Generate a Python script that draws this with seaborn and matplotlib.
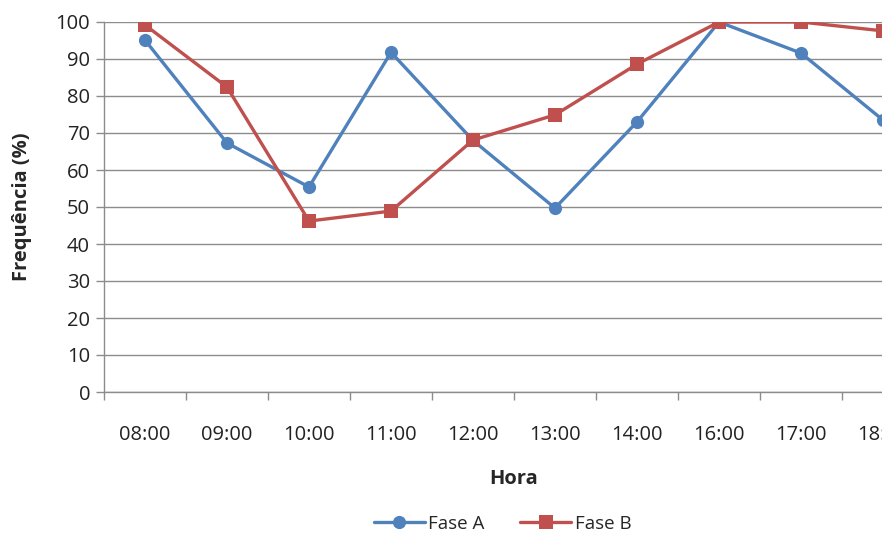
import pandas as pd
import matplotlib.pyplot as plt
import seaborn as sns
from matplotlib.ticker import MultipleLocator, FixedLocator

# Data
horas = ['08:00', '09:00', '10:00', '11:00', '12:00', '13:00', '14:00', '16:00', '17:00', '18:00']
fase_a = [95.1, 67.3, 55.4, 91.8, 68.0, 49.7, 73.0, 100.0, 91.6, 73.5]
fase_b = [99.2, 82.4, 46.2, 48.9, 68.1, 74.9, 88.6, 100.0, 100.0, 97.6]

df = pd.DataFrame({
    'pos': list(range(len(horas))) * 2,
    'freq': fase_a + fase_b,
    'fase': ['Fase A'] * len(horas) + ['Fase B'] * len(horas),
})

sns.set_style('white')
plt.rcParams['font.family'] = ['Open Sans', 'DejaVu Sans']

fig = plt.figure(figsize=(8.82, 5.33), dpi=100)
ax = fig.add_axes([104 / 882, 1 - 392 / 533, 820 / 882, 370 / 533])

sns.lineplot(data=df, x='pos', y='freq', hue='fase', style='fase',
             palette={'Fase A': '#4F81BD', 'Fase B': '#C0504D'},
             markers={'Fase A': 'o', 'Fase B': 's'}, dashes=False,
             markersize=9.5, markeredgewidth=0, linewidth=2.4, ax=ax, legend=True)

ax.set_ylim(0, 100)
ax.set_xlim(-0.5, len(horas) - 0.5)
ax.yaxis.set_major_locator(MultipleLocator(10))
ax.yaxis.grid(True, color='#8C8C8C', linewidth=1)
ax.set_axisbelow(True)

ax.set_xticks(range(len(horas)))
ax.set_xticklabels(horas)
ax.xaxis.set_minor_locator(FixedLocator([i - 0.5 for i in range(len(horas) + 1)]))
ax.tick_params(axis='x', which='major', length=0, pad=24, labelsize=14.5, colors='#222222')
ax.tick_params(axis='x', which='minor', length=6, width=1, color='#8C8C8C', direction='out', bottom=True)
ax.tick_params(axis='y', length=6, width=1, color='#8C8C8C', direction='out', labelsize=14.5,
               pad=4, colors='#222222', left=True)

for side in ['top', 'right']:
    ax.spines[side].set_visible(False)
for side in ['left', 'bottom']:
    ax.spines[side].set_color('#8C8C8C')
    ax.spines[side].set_linewidth(1)

ax.set_xlabel('Hora', fontsize=14.5, fontweight='bold', labelpad=17)
ax.set_ylabel('Frequência (%)', fontsize=14.5, fontweight='bold', labelpad=17)

handles, labels = ax.get_legend_handles_labels()
ax.get_legend().remove()
fig.legend(handles, labels, loc='center', bbox_to_anchor=(0.57, 0.017), ncol=2,
           frameon=False, fontsize=13.5, handlelength=2.7, columnspacing=1.9, handletextpad=0.2)

fig.savefig('out.png', dpi=100)
